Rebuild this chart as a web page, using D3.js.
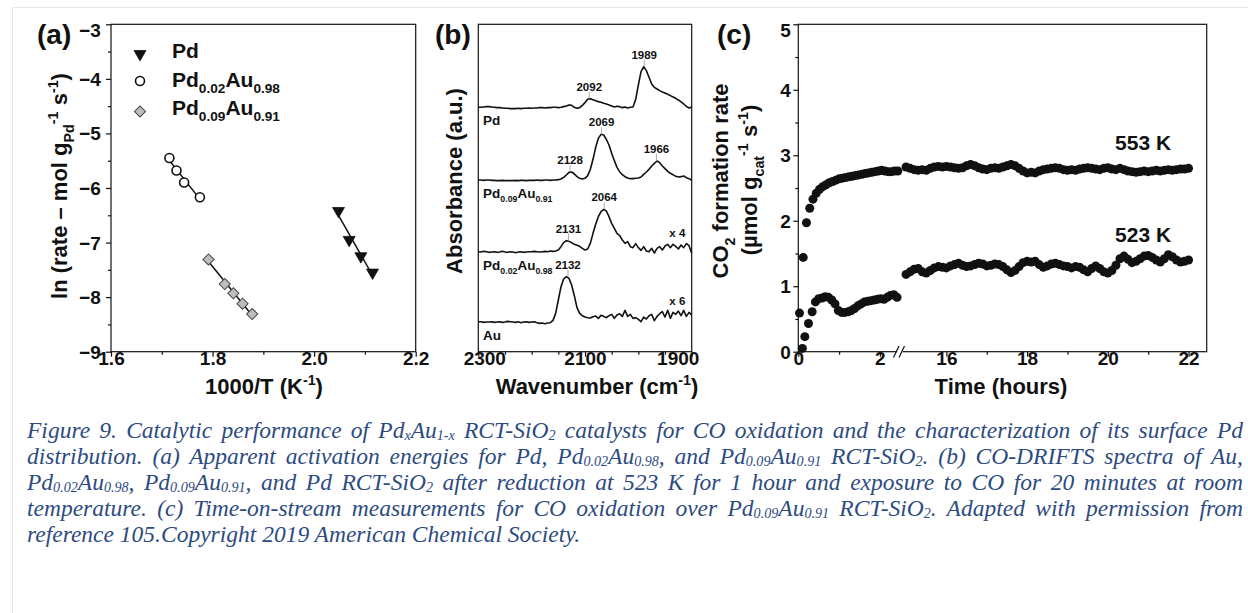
<!DOCTYPE html>
<html>
<head>
<meta charset="utf-8">
<title>Figure 9</title>
<script src="https://cdn.jsdelivr.net/npm/d3@7/dist/d3.min.js"></script>
<style>
  html, body { margin: 0; padding: 0; background: #ffffff; }
  svg { display: block; }
</style>
</head>
<body>
<svg id="figure" width="1248" height="613"></svg>
<script>
// ---------------- (a) Arrhenius plot: 1000/T (K^-1) vs ln(rate) ----------------
const pdInvT      = [2.048, 2.069, 2.092, 2.115];
const pdLnRate    = [-6.42, -6.95, -7.25, -7.55];
const pd02InvT    = [1.715, 1.729, 1.744, 1.775];
const pd02LnRate  = [-5.45, -5.68, -5.90, -6.17];
const pd09InvT    = [1.792, 1.824, 1.841, 1.859, 1.878];
const pd09LnRate  = [-7.31, -7.76, -7.93, -8.12, -8.31];
const aXTicks = [1.6, 1.8, 2.0, 2.2];
const aXMinor = [1.7, 1.9, 2.1];
const aYTicks = [-9, -8, -7, -6, -5, -4, -3];
const aYMinor = [-8.5, -7.5, -6.5, -5.5, -4.5, -3.5];

// ---------------- (b) CO-DRIFTS spectra (absorbance, a.u.) ----------------
const wavenumber = [
  2300,2295,2290,2285,2280,2275,2270,2265,2260,2255,
  2250,2245,2240,2235,2230,2225,2220,2215,2210,2205,
  2200,2195,2190,2185,2180,2175,2170,2165,2160,2155,
  2150,2145,2140,2135,2130,2125,2120,2115,2110,2105,
  2100,2095,2090,2085,2080,2075,2070,2065,2060,2055,
  2050,2045,2040,2035,2030,2025,2020,2015,2010,2005,
  2000,1995,1990,1985,1980,1975,1970,1965,1960,1955,
  1950,1945,1940,1935,1930,1925,1920,1915,1910,1905,
  1900];
// absorbance relative to each spectrum's own baseline
const specPd = [
  0,0,0.1,0.2,0.2,0.1,0,-0.1,-0.1,-0.2,
  -0.3,-0.3,-0.4,-0.4,-0.4,-0.3,-0.4,-0.3,-0.3,-0.2,
  -0.3,-0.2,-0.2,-0.1,-0.1,-0.2,-0.1,-0.1,0,0,
  -0.1,0,0.2,0.4,0.7,0.6,0,-0.3,-0.1,0.6,
  1.4,2.4,2.6,2.3,2.0,1.7,1.5,1.2,1.0,0.7,
  0.4,0.1,0.3,0.2,-0.1,0.1,-0.2,0,0.1,2.4,
  6.7,10.7,12.2,11.0,9.0,7.0,6.0,5.5,5.0,4.6,
  4.3,3.9,3.5,3.1,2.7,2.2,1.6,1.0,0.3,-0.2,
  0.1];
const specPd09 = [
  0,0,-0.1,0,0,-0.1,-0.1,-0.2,-0.2,-0.1,
  -0.2,-0.2,-0.2,-0.2,-0.1,-0.2,-0.1,-0.1,-0.2,-0.1,
  -0.1,-0.1,0,-0.1,-0.1,0,0,-0.1,0,0,
  0.1,0.3,0.8,1.5,2.3,2.4,1.8,1.0,0.5,0.3,
  0.5,1.3,3.2,6.2,9.8,12.5,13.7,13.5,12.2,10.5,
  8.0,5.8,3.8,2.5,1.6,1.0,0.6,0.4,0.4,0.5,
  0.6,0.9,1.7,2.4,3.2,4.2,5.0,5.7,5.2,4.2,
  3.4,2.6,2.0,1.6,1.1,0.9,1.0,1.2,0.7,0.4,
  -0.1];
const specPd02 = [
  0,-0.1,0.1,0,-0.2,-0.1,0,-0.2,-0.1,0.1,
  -0.1,-0.2,0,-0.1,-0.3,-0.1,0,-0.2,-0.1,0,
  0,0.1,0,-0.1,0,0.1,0,0.2,0.1,0.2,
  0.5,1.5,2.7,3.3,3.1,2.7,2.2,1.9,1.6,1.0,
  0.5,0.8,2.5,5.5,8.2,10.5,12.0,12.7,12.2,10.5,
  8.5,7.0,5.5,4.8,3.5,2.5,3.0,1.5,1.2,2.4,
  1.2,0.4,1.5,0.2,0,1.0,-0.4,1.0,1.5,0.5,
  1.7,2.2,1.2,2.2,1.6,0.8,2.0,1.2,2.4,1.8,
  -0.5];
const specAu = [
  0,0,-0.2,-0.1,-0.1,0,-0.2,-0.1,0,-0.2,
  -0.1,0.1,0,-0.1,-0.2,0,-0.3,-0.1,0,-0.2,
  -0.1,0,-0.3,-0.5,-0.4,-0.6,-0.4,-0.3,0.4,2.5,
  6.5,10.5,12.8,13.5,13.0,11.0,7.8,4.2,2.5,1.8,
  1.4,1.2,1.1,1.5,1.7,1.0,1.9,1.6,1.2,1.8,
  2.2,1.0,2.0,2.4,1.6,3.4,1.6,2.2,1.0,1.2,
  0.7,0,1.4,0.8,1.8,2.2,0.3,1.6,2.4,3.0,
  1.4,3.4,1.0,2.8,2.2,3.2,1.8,3.4,1.6,2.8,
  2.0];
const spectraOrder   = ["Pd", "Pd0.09Au0.91", "Pd0.02Au0.98", "Au"];
const spectraOffsets = [73.3, 51.5, 30.0, 9.0];
const spectraPeaks   = [[2092, 1989], [2128, 2069, 1966], [2131, 2064], [2132]];
const spectraFactor  = ["", "", "x 4", "x 6"];
const bXTicks = [2300, 2100, 1900];
const bXMinor = [2250, 2200, 2150, 2050, 2000, 1950];

// ---------------- (c) time on stream: CO2 formation rate (µmol gcat^-1 s^-1) ----------------
const t553Early = [0.03,0.12,0.20,0.28,0.36,0.44,0.52,0.60,0.68,0.76,0.84,0.92,1.00,1.08,1.16,1.24,
                   1.32,1.40,1.48,1.56,1.64,1.72,1.80,1.88,1.96,2.04,2.12,2.20,2.28,2.36,2.44];
const r553Early = [0.59,1.44,1.97,2.19,2.33,2.42,2.48,2.52,2.55,2.58,2.60,2.62,2.64,2.65,2.66,2.67,
                   2.68,2.69,2.70,2.71,2.72,2.73,2.74,2.75,2.76,2.77,2.76,2.75,2.75,2.76,2.76];
const t523Early = [0.10,0.16,0.25,0.34,0.42,0.50,0.58,0.66,0.74,0.82,0.90,0.98,1.06,1.14,1.22,
                   1.30,1.38,1.46,1.54,1.62,1.70,1.78,1.86,1.94,2.02,2.10,2.18,2.26,2.34,2.42];
const r523Early = [0.05,0.23,0.43,0.61,0.76,0.81,0.82,0.84,0.83,0.79,0.73,0.63,0.60,0.60,0.61,
                   0.63,0.66,0.70,0.73,0.76,0.77,0.78,0.79,0.80,0.81,0.80,0.83,0.86,0.87,0.83];
const tLate = [
  15.0,15.1,15.2,15.3,15.4,15.5,15.6,15.7,15.8,15.9,
  16.0,16.1,16.2,16.3,16.4,16.5,16.6,16.7,16.8,16.9,
  17.0,17.1,17.2,17.3,17.4,17.5,17.6,17.7,17.8,17.9,
  18.0,18.1,18.2,18.3,18.4,18.5,18.6,18.7,18.8,18.9,
  19.0,19.1,19.2,19.3,19.4,19.5,19.6,19.7,19.8,19.9,
  20.0,20.1,20.2,20.3,20.4,20.5,20.6,20.7,20.8,20.9,
  21.0,21.1,21.2,21.3,21.4,21.5,21.6,21.7,21.8,21.9,
  22.0];
const r553Late = [
  2.82,2.80,2.78,2.77,2.78,2.77,2.80,2.82,2.83,2.82,
  2.83,2.82,2.81,2.80,2.81,2.84,2.86,2.84,2.81,2.79,
  2.78,2.80,2.81,2.80,2.82,2.84,2.86,2.84,2.80,2.76,
  2.73,2.74,2.73,2.76,2.78,2.79,2.80,2.81,2.80,2.78,
  2.77,2.78,2.77,2.79,2.80,2.81,2.80,2.79,2.78,2.80,
  2.81,2.79,2.78,2.80,2.78,2.76,2.75,2.74,2.75,2.76,
  2.75,2.76,2.77,2.76,2.77,2.78,2.77,2.78,2.79,2.79,
  2.80];
const r523Late = [
  1.18,1.22,1.26,1.27,1.22,1.20,1.24,1.28,1.30,1.29,
  1.28,1.31,1.33,1.35,1.32,1.30,1.31,1.33,1.35,1.34,
  1.31,1.32,1.34,1.33,1.30,1.25,1.21,1.24,1.30,1.36,
  1.38,1.37,1.38,1.33,1.29,1.31,1.34,1.35,1.33,1.31,
  1.30,1.28,1.30,1.29,1.25,1.22,1.27,1.31,1.27,1.22,
  1.20,1.24,1.32,1.42,1.46,1.41,1.36,1.38,1.42,1.46,
  1.47,1.44,1.40,1.37,1.42,1.48,1.45,1.40,1.37,1.38,
  1.40];
const cYTicks = [0, 1, 2, 3, 4, 5];
const cYMinor = [0.5, 1.5, 2.5, 3.5, 4.5];
const cXTicksEarly = [0, 2];
const cXMinorEarly = [1];
const cXTicksLate = [16, 18, 20, 22];
const cXMinorLate = [17, 19, 21];

// ---------------- caption ----------------
const captionLines = [
  [["Figure 9. Catalytic performance of Pd"], ["x", "sub"], ["Au"], ["1-x", "sub"], [" RCT-SiO"], ["2", "sub"],
   [" catalysts for CO oxidation and the characterization of its surface Pd"]],
  [["distribution. (a) Apparent activation energies for Pd, Pd"], ["0.02", "sub"], ["Au"], ["0.98", "sub"],
   [", and Pd"], ["0.09", "sub"], ["Au"], ["0.91", "sub"], [" RCT-SiO"], ["2", "sub"], [". (b) CO-DRIFTS spectra of Au,"]],
  [["Pd"], ["0.02", "sub"], ["Au"], ["0.98", "sub"], [", Pd"], ["0.09", "sub"], ["Au"], ["0.91", "sub"],
   [", and Pd RCT-SiO"], ["2", "sub"], [" after reduction at 523 K for 1 hour and exposure to CO for 20 minutes at room"]],
  [["temperature. (c) Time-on-stream measurements for CO oxidation over Pd"], ["0.09", "sub"], ["Au"], ["0.91", "sub"],
   [" RCT-SiO"], ["2", "sub"], [". Adapted with permission from"]],
  [["reference 105.Copyright 2019 American Chemical Society."]]
];

// =====================================================================
const SANS = "'Liberation Sans', Arial, Helvetica, sans-serif";
const SERIF = "'Liberation Serif', 'Times New Roman', Times, serif";
const INK = "#111";
const svg = d3.select("#figure");

// rich text: [string, "sub" | "sup" | undefined]
function rich(textSel, parts, size, scale = 0.65, subShift = 0.3, supShift = 0.42) {
  let shift = 0;
  parts.forEach(([s, kind]) => {
    const target = kind === "sub" ? size * subShift : kind === "sup" ? -size * supShift : 0;
    textSel.append("tspan")
      .attr("dy", target - shift)
      .attr("font-size", kind ? size * scale : size)
      .text(s);
    shift = target;
  });
  return textSel;
}

function label(x, y, parts, size, anchor = "start", rotate = false) {
  const g = svg.append("g").attr("transform", `translate(${x},${y})${rotate ? " rotate(-90)" : ""}`);
  const t = g.append("text")
    .attr("font-family", SANS).attr("font-weight", "bold")
    .attr("font-size", size).attr("fill", INK)
    .attr("text-anchor", anchor);
  return rich(t, parts, size);
}

const TICK_FONT = 19;

function bottomAxis(scale, major, minor, y, fmt) {
  const g = svg.append("g").attr("transform", `translate(0,${y})`);
  g.append("g").call(d3.axisBottom(scale).tickValues(major).tickSize(5).tickFormat(fmt));
  if (minor.length) g.append("g").call(d3.axisBottom(scale).tickValues(minor).tickSize(3).tickFormat(""));
  g.selectAll(".domain").remove();
  g.selectAll("line").attr("stroke", INK).attr("stroke-width", 1.2);
  g.selectAll("text")
    .attr("y", 13.6).attr("dy", null)
    .attr("font-family", SANS).attr("font-weight", "bold")
    .attr("font-size", TICK_FONT).attr("fill", INK);
  return g;
}

function leftAxis(scale, major, minor, x, pad, fmt) {
  const g = svg.append("g").attr("transform", `translate(${x},0)`);
  g.append("g").call(d3.axisLeft(scale).tickValues(major).tickSize(5).tickPadding(pad).tickFormat(fmt));
  g.append("g").call(d3.axisLeft(scale).tickValues(minor).tickSize(3).tickFormat(""));
  g.selectAll(".domain").remove();
  g.selectAll("line").attr("stroke", INK).attr("stroke-width", 1.2);
  const top = d3.max(major);
  g.selectAll("text")
    .attr("dy", d => d === top ? "0.62em" : "0.34em")
    .attr("font-family", SANS).attr("font-weight", "bold")
    .attr("font-size", TICK_FONT).attr("fill", INK);
  return g;
}

function frame(x0, x1, y0, y1) {
  svg.append("rect")
    .attr("x", x0).attr("y", y0).attr("width", x1 - x0).attr("height", y1 - y0)
    .attr("fill", "none").attr("stroke", INK).attr("stroke-width", 1.2);
}

// light page rules around the figure
svg.append("path").attr("d", "M12.5,613V7.5H1248")
  .attr("fill", "none").attr("stroke", "#e6e6e6").attr("stroke-width", 1);

const TOP = 24.3, BOTTOM = 351.7;

// ======================= (a) =======================
const xA = d3.scaleLinear().domain([1.6, 2.2]).range([111, 415.7]);
const yA = d3.scaleLinear().domain([-9, -3]).range([BOTTOM, TOP]);

frame(111, 415.7, TOP, BOTTOM);
bottomAxis(xA, aXTicks, aXMinor, BOTTOM, d3.format(".1f"));
leftAxis(yA, aYTicks, aYMinor, 111, 5.3, d3.format("d"));

function fitLine(xs, ys) {
  const mx = d3.mean(xs), my = d3.mean(ys);
  const sxy = d3.sum(xs, (x, i) => (x - mx) * (ys[i] - my));
  const sxx = d3.sum(xs, x => (x - mx) * (x - mx));
  const k = sxy / sxx, b = my - k * mx;
  const [lo, hi] = d3.extent(xs);
  return [[lo, k * lo + b], [hi, k * hi + b]];
}

const triangle = d3.symbol(d3.symbolTriangle, 62)();
const square = d3.symbol(d3.symbolSquare, 62)();

const aSeries = [
  { xs: pdInvT,   ys: pdLnRate,   mark: "tri" },
  { xs: pd02InvT, ys: pd02LnRate, mark: "circle" },
  { xs: pd09InvT, ys: pd09LnRate, mark: "diamond" }
];

function drawMark(g, mark, x, y) {
  if (mark === "tri") {
    g.append("path").attr("d", triangle)
      .attr("transform", `translate(${x},${y}) rotate(180)`)
      .attr("fill", INK).attr("stroke", INK).attr("stroke-width", 0.8);
  } else if (mark === "circle") {
    g.append("circle").attr("cx", x).attr("cy", y).attr("r", 4.5)
      .attr("fill", "#fff").attr("stroke", INK).attr("stroke-width", 1.6);
  } else {
    g.append("path").attr("d", square)
      .attr("transform", `translate(${x},${y}) rotate(45)`)
      .attr("fill", "#bdbdbd").attr("stroke", "#444").attr("stroke-width", 1);
  }
}

const gA = svg.append("g");
aSeries.forEach(s => {
  const seg = fitLine(s.xs, s.ys);
  gA.append("line")
    .attr("x1", xA(seg[0][0])).attr("y1", yA(seg[0][1]))
    .attr("x2", xA(seg[1][0])).attr("y2", yA(seg[1][1]))
    .attr("stroke", INK).attr("stroke-width", 1.5);
});
aSeries.forEach(s => s.xs.forEach((x, i) => drawMark(gA, s.mark, xA(x), yA(s.ys[i]))));

// legend
const legendItems = [
  { mark: "tri",     y: 54,  base: 58.3, parts: [["Pd"]] },
  { mark: "circle",  y: 81,  base: 86.7, parts: [["Pd"], ["0.02", "sub"], ["Au"], ["0.98", "sub"]] },
  { mark: "diamond", y: 111.5, base: 115, parts: [["Pd"], ["0.09", "sub"], ["Au"], ["0.91", "sub"]] }
];
legendItems.forEach(it => {
  drawMark(gA, it.mark, 140, it.y);
  label(172, it.base, it.parts, 21);
});

label(264, 394, [["1000/T (K"], ["-1", "sup"], [")"]], 22, "middle");
label(67, 186, [["ln (rate – mol g"], ["Pd", "sub"], ["-1", "sup"], [" s"], ["-1", "sup"], [")"]], 22, "middle", true);
label(37, 44, [["(a)"]], 28);

// ======================= (b) =======================
const xB = d3.scaleLinear().domain([2300, 1900]).range([478.3, 691.7]);
const yB = d3.scaleLinear().domain([0, 98.2]).range([BOTTOM, TOP]);

frame(478.3, 691.7, TOP, BOTTOM);
const axB = bottomAxis(xB, bXTicks, bXMinor, BOTTOM, d3.format("d"));
axB.selectAll("text").attr("dx", d => d === 2300 ? 6 : d === 1900 ? -14 : 0);

const spectra = [specPd, specPd09, specPd02, specAu];
const gB = svg.append("g");
spectra.forEach((spec, k) => {
  const off = spectraOffsets[k];
  gB.append("path")
    .attr("d", d3.line().x((d, i) => xB(wavenumber[i])).y(d => yB(off + d))(spec))
    .attr("fill", "none").attr("stroke", INK).attr("stroke-width", 1.6)
    .attr("stroke-linejoin", "round");

  spectraPeaks[k].forEach(wn => {
    let best = -Infinity;
    wavenumber.forEach((w, i) => { if (Math.abs(w - wn) <= 6) best = Math.max(best, spec[i]); });
    const py = yB(off + best);
    gB.append("line").attr("x1", xB(wn)).attr("x2", xB(wn))
      .attr("y1", py - 7).attr("y2", py)
      .attr("stroke", "#999").attr("stroke-width", 0.8);
    gB.append("text").attr("x", xB(wn)).attr("y", py - 8)
      .attr("text-anchor", "middle")
      .attr("font-family", SANS).attr("font-weight", "bold").attr("font-size", 11.5).attr("fill", INK)
      .text(wn);
  });

  if (spectraFactor[k]) {
    label(xB(1927), yB(off + (k === 2 ? 4.5 : 5.0)), [[spectraFactor[k]]], 11.5, "middle");
  }
});

const traceNameParts = [
  [["Pd"]],
  [["Pd"], ["0.09", "sub"], ["Au"], ["0.91", "sub"]],
  [["Pd"], ["0.02", "sub"], ["Au"], ["0.98", "sub"]],
  [["Au"]]
];
traceNameParts.forEach((parts, k) => label(xB(2291), yB(spectraOffsets[k] - 5.4), parts, 13.5));

label(597, 394, [["Wavenumber (cm"], ["-1", "sup"], [")"]], 22, "middle");
label(462, 181, [["Absorbance (a.u.)"]], 22, "middle", true);
label(435, 44, [["(b)"]], 28);

// ======================= (c) =======================
const xC1 = d3.scaleLinear().domain([0, 2.5]).range([798.3, 900.3]);
const xC2 = d3.scaleLinear().domain([14.85, 22.45]).range([900, 1206.7]);
const yC = d3.scaleLinear().domain([0, 5]).range([BOTTOM, TOP]);

frame(798.3, 1206.7, TOP, BOTTOM);
bottomAxis(xC1, cXTicksEarly, cXMinorEarly, BOTTOM, d3.format("d"));
bottomAxis(xC2, cXTicksLate, cXMinorLate, BOTTOM, d3.format("d"));
leftAxis(yC, cYTicks, cYMinor, 798.3, 2.6, d3.format("d"));

// axis break
svg.append("rect").attr("x", 897.2).attr("y", 348).attr("width", 5.6).attr("height", 8).attr("fill", "#fff");
svg.append("path").attr("d", "M893.5,357.5L899,346M899,357.5L904.5,346")
  .attr("fill", "none").attr("stroke", INK).attr("stroke-width", 1.2);

const gC = svg.append("g").attr("fill", INK);
function dots(ts, rs, sx) {
  gC.selectAll(null).data(ts).enter().append("circle")
    .attr("cx", d => sx(d)).attr("cy", (d, i) => yC(rs[i])).attr("r", 4.5);
}
dots(t553Early, r553Early, xC1);
dots(t523Early, r523Early, xC1);
dots(tLate, r553Late, xC2);
dots(tLate, r523Late, xC2);

label(xC2(20.18), yC(3.08), [["553 K"]], 21);
label(xC2(20.18), yC(1.68), [["523 K"]], 21);

label(1001, 394, [["Time (hours)"]], 22, "middle");
label(728, 181, [["CO"], ["2", "sub"], [" formation rate"]], 22, "middle", true);
label(757, 180, [["(µmol g"], ["cat", "sub"], ["-1", "sup"], [" s"], ["-1", "sup"], [")"]], 22, "middle", true);
label(717, 44, [["(c)"]], 28);

// ======================= caption (justified) =======================
const CAP_X = 27, CAP_W = 1216, CAP_SIZE = 23.5;
const cap = svg.append("g")
  .attr("font-family", SERIF).attr("font-style", "italic").attr("fill", "#2d4b7f");
captionLines.forEach((parts, i) => {
  const t = cap.append("text").attr("x", CAP_X).attr("y", 438 + 26 * i).attr("font-size", CAP_SIZE);
  rich(t, parts, CAP_SIZE, 0.6, 0.09, 0.4);
  if (i < captionLines.length - 1) {
    const len = t.node().getComputedTextLength();
    const spaces = parts.map(p => p[0]).join("").split(" ").length - 1;
    t.attr("word-spacing", (CAP_W - len) / spaces);
  }
});
</script>
</body>
</html>
